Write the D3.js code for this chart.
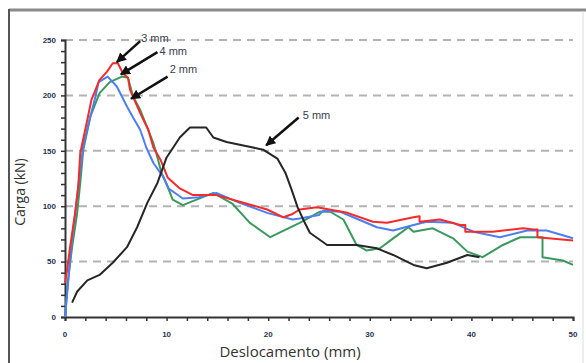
<!DOCTYPE html>
<html>
<head>
<meta charset="utf-8">
<script src="https://cdn.jsdelivr.net/npm/d3@7/dist/d3.min.js"></script>
<style>
  body { margin: 0; background: #fff; }
  svg { display: block; }
</style>
</head>
<body>
<svg width="586" height="363"></svg>
<script>
/* data: [deslocamento (mm), carga (kN)] */
var curve3mm = [[0,31],[0.2,42],[0.5,63],[1.0,94],[1.3,117],[1.5,148],[2.2,178],[2.6,196],[3.4,214],[4.1,221],
    [4.7,229],[5.2,229],[5.7,220],[6.2,216],[6.4,205],[7.4,184],[8.2,169],[8.7,153],[9.4,142],[10.1,126],
    [11.3,116],[12.6,110],[14.9,110],[17.2,104],[19.9,97],[21.5,90],[22.4,93],[23.1,97],[24.8,99],[27.8,94],
    [30.3,86],[31.7,85],[34.3,90],[34.9,91],[34.9,86],[36.9,88],[38.9,83],[39.4,83],[39.4,77],[42.1,77],
    [45.1,80],[46.1,79],[46.5,79],[46.5,72],[50,69]];
var curve4mm = [[0,0],[0.3,30],[0.6,63],[1.0,94],[1.4,125],[1.8,155],[2.5,181],[3.0,199],[3.3,212],[4.2,217],
    [5.1,208],[6.1,190],[6.7,180],[7.4,169],[8.0,153],[8.7,139],[9.7,126],[10.2,116],[11.6,107],[13.2,108],
    [14.9,112],[17.2,103],[19.9,94],[22.4,88],[23.1,89],[25.0,92],[25.4,96],[27.1,95],[30.7,81],[32.3,78],
    [34.3,83],[35.6,86],[38.2,85],[40.2,77],[42.8,72],[45.5,78],[47.4,78],[50,71]];
var curve2mm = [[0,0],[0.3,33],[0.7,63],[1.2,94],[1.5,121],[1.8,151],[2.5,181],[3.4,202],[4.4,212],[5.6,217],
    [6.2,216],[6.7,199],[7.4,187],[8.1,171],[8.7,157],[9.1,144],[9.5,130],[10.0,120],[10.6,106],[11.6,101],
    [14.6,112],[16.5,102],[18.2,85],[20.2,72],[23.1,85],[25.1,95],[26.1,95],[27.4,88],[28.7,65],[29.7,60],
    [31.0,62],[32.3,71],[33.8,81],[34.3,77],[36.2,80],[38.2,71],[39.6,59],[41.1,54],[43.1,65],[44.8,72],
    [46.8,72],[47.0,72],[47.0,54],[49.0,51],[50,47]];
var curve5mm = [[0.7,13],[1.2,23],[2.2,33],[3.4,38],[4.7,49],[6.1,63],[7.1,81],[8.1,103],[9.1,121],[10.0,144],
    [11.3,162],[12.3,171],[13.9,171],[14.6,162],[15.9,158],[18.5,153],[19.5,151],[20.9,143],[21.7,130],
    [22.3,115],[22.9,99],[23.6,85],[24.1,76],[25.8,65],[28.7,65],[30.7,62],[32.3,56],[34.3,47],[35.6,44],
    [37.6,49],[39.6,56],[40.8,54]];

var xTicks = [0, 10, 20, 30, 40, 50],
    yTicks = [0, 50, 100, 150, 200, 250];

/* labels with arrows: text at [x,y], arrow from tail to head */
var notes = [
    {text: "3 mm", at: [7.5, 252], tail: [7.4, 249], head: [5.1, 230]},
    {text: "4 mm", at: [9.3, 240], tail: [9.1, 239], head: [5.5, 219]},
    {text: "2 mm", at: [10.3, 224], tail: [10.1, 217], head: [6.5, 197]},
    {text: "5 mm", at: [23.4, 182], tail: [23.0, 180], head: [19.8, 155]}
];

var series = [
    {id: "2 mm", values: curve2mm, color: "#3a9a5c"},
    {id: "4 mm", values: curve4mm, color: "#4d7ef2"},
    {id: "3 mm", values: curve3mm, color: "#f52a2a"},
    {id: "5 mm", values: curve5mm, color: "#262626"}
];

var svg = d3.select("svg");

var x = d3.scaleLinear().domain([0, 50]).range([65, 573]),
    y = d3.scaleLinear().domain([0, 250]).range([317, 40]);

/* frame */
svg.append("line").attr("x1", 9).attr("x2", 586).attr("y1", 10).attr("y2", 10)
    .attr("stroke", "#8a8a8a").attr("stroke-width", 3);
svg.append("line").attr("x1", 9).attr("x2", 9).attr("y1", 9).attr("y2", 363)
    .attr("stroke", "#555").attr("stroke-width", 2);
svg.append("line").attr("x1", 583).attr("x2", 583).attr("y1", 11).attr("y2", 363)
    .attr("stroke", "#ddd").attr("stroke-width", 1);

/* grid */
svg.append("g").selectAll("line")
    .data(yTicks.slice(1))
    .enter().append("line")
    .attr("x1", x(0)).attr("x2", x(50))
    .attr("y1", function(d) { return y(d); })
    .attr("y2", function(d) { return y(d); })
    .attr("stroke", "#b3b3b3").attr("stroke-width", 2)
    .attr("stroke-dasharray", "8,6");

/* axes */
var yAxis = svg.append("g")
    .attr("transform", "translate(" + x(0) + ",0)")
    .call(d3.axisLeft(y).tickValues(d3.range(0, 251, 10)).tickSize(4).tickFormat(""));
var xAxis = svg.append("g")
    .attr("transform", "translate(0," + y(0) + ")")
    .call(d3.axisBottom(x).tickValues(d3.range(0, 51, 2)).tickSize(4).tickFormat(""));
[yAxis, xAxis].forEach(function(a) {
    a.select(".domain").attr("stroke", "#333").attr("stroke-width", 2);
    a.selectAll(".tick line").attr("stroke", "#333").attr("stroke-width", 1.5);
});

svg.append("g").selectAll("text")
    .data(yTicks)
    .enter().append("text")
    .attr("x", x(0) - 9)
    .attr("y", function(d) { return y(d); })
    .attr("dy", "0.35em")
    .attr("text-anchor", "end")
    .style("font", "bold 8px 'Liberation Sans', sans-serif")
    .attr("fill", "#2a3350")
    .text(function(d) { return d; });

svg.append("g").selectAll("text")
    .data(xTicks)
    .enter().append("text")
    .attr("x", function(d) { return x(d); })
    .attr("y", y(0) + 17)
    .attr("dy", "0.35em")
    .attr("text-anchor", "middle")
    .style("font", "bold 8px 'Liberation Sans', sans-serif")
    .attr("fill", "#2a3350")
    .text(function(d) { return d; });

svg.append("text")
    .attr("x", 290).attr("y", 357)
    .attr("text-anchor", "middle")
    .style("font", "15px 'Open Sans', sans-serif")
    .attr("fill", "#333")
    .text("Deslocamento (mm)");

svg.append("text")
    .attr("transform", "translate(25,192) rotate(-90)")
    .attr("text-anchor", "middle")
    .style("font", "14px 'Open Sans', sans-serif")
    .attr("fill", "#333")
    .text("Carga (kN)");

/* curves */
var line = d3.line()
    .x(function(d) { return x(d[0]); })
    .y(function(d) { return y(d[1]); });

svg.append("g").selectAll("path")
    .data(series)
    .enter().append("path")
    .attr("d", function(d) { return line(d.values); })
    .attr("fill", "none")
    .attr("stroke", function(d) { return d.color; })
    .attr("stroke-width", 2)
    .attr("stroke-linejoin", "round");

/* arrows */
svg.append("defs").append("marker")
    .attr("id", "head")
    .attr("viewBox", "0 0 10 10")
    .attr("refX", 9).attr("refY", 5)
    .attr("markerWidth", 4).attr("markerHeight", 4)
    .attr("orient", "auto")
    .append("path").attr("d", "M0,0L10,5L0,10z").attr("fill", "#111");

var ann = svg.append("g");
ann.selectAll("line")
    .data(notes)
    .enter().append("line")
    .attr("x1", function(d) { return x(d.tail[0]); })
    .attr("y1", function(d) { return y(d.tail[1]); })
    .attr("x2", function(d) { return x(d.head[0]); })
    .attr("y2", function(d) { return y(d.head[1]); })
    .attr("stroke", "#111").attr("stroke-width", 2.5)
    .attr("marker-end", "url(#head)");
ann.selectAll("text")
    .data(notes)
    .enter().append("text")
    .attr("x", function(d) { return x(d.at[0]); })
    .attr("y", function(d) { return y(d.at[1]); })
    .attr("dy", "0.35em")
    .style("font", "11px 'Liberation Sans', sans-serif")
    .attr("fill", "#3a4050")
    .text(function(d) { return d.text; });
</script>
</body>
</html>
